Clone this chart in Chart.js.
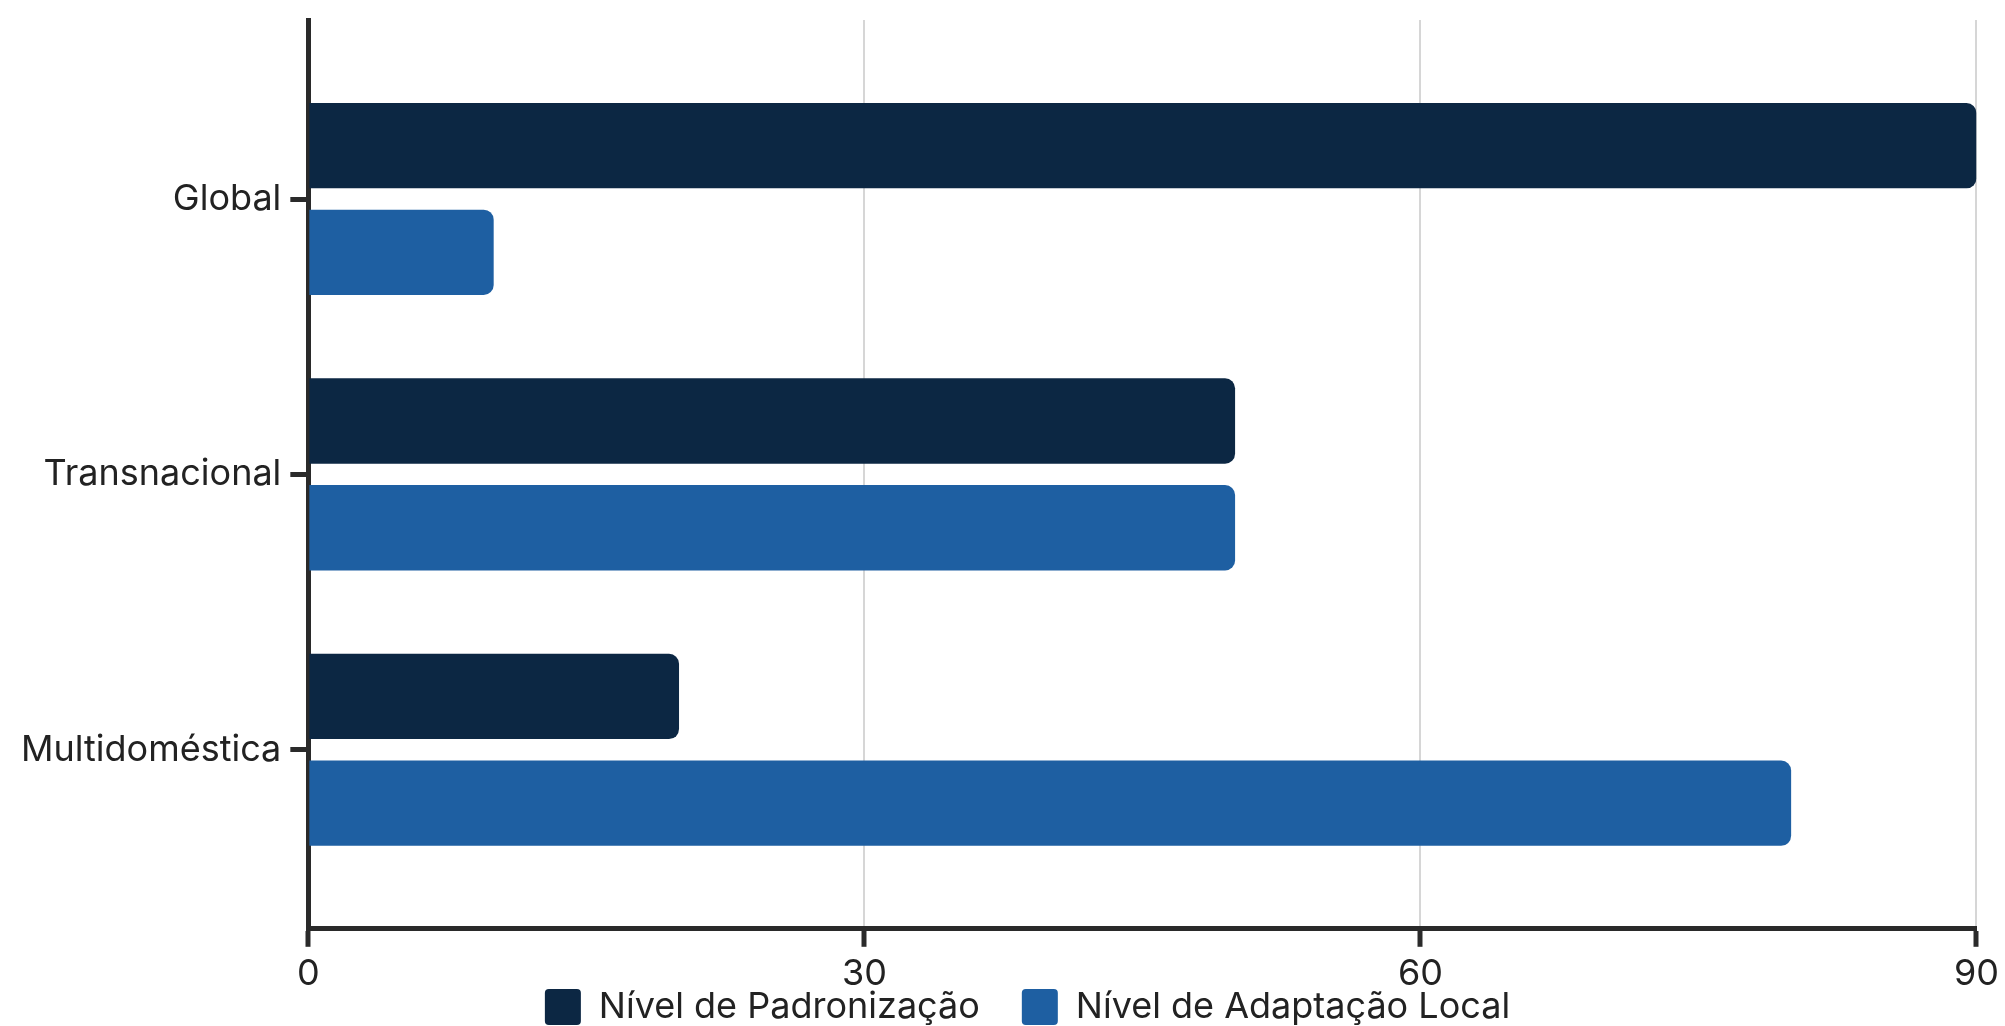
<!DOCTYPE html>
<html>
<head>
<meta charset="utf-8">
<script src="https://cdn.jsdelivr.net/npm/chart.js@4.4.1/dist/chart.umd.min.js"></script>
<style>
  html, body { margin: 0; padding: 0; background: #ffffff; }
  #wrap { width: 2005px; height: 1026px; position: relative; }
</style>
</head>
<body>
<div id="wrap"><canvas id="c"></canvas></div>
<script>
const categories = ['Global', 'Transnacional', 'Multidoméstica'];
const seriesNames = ['Nível de Padronização', 'Nível de Adaptação Local'];
const padronizacao = [90, 50, 20];
const adaptacaoLocal = [10, 50, 80];
const xTicks = [0, 30, 60, 90];

const DARK = '#0c2743';
const BLUE = '#1e5fa2';
const AXIS = '#2a2a2a';
const TEXT = '#222222';
const GRID = '#d6d6d6';

const LEGEND_BOX = 36;
const LEGEND_PAD = 42;
const LEGEND_SPACE = 24;
const LEGEND_LEFT_INSET = 66;

function toPoints(values) {
  return values.map((v, i) => ({ x: v, y: i }));
}

// Legend sits tight under the axis labels while keeping wide spacing between items
const legendPlacement = {
  id: 'legendPlacement',
  afterInit(chart) {
    const lg = chart.legend;
    const baseFit = lg.fit;
    lg.fit = function () { baseFit.call(this); this.height = LEGEND_SPACE; };
  },
  afterLayout(chart) {
    const lg = chart.legend;
    const top = chart.height - LEGEND_BOX - 1 - LEGEND_PAD;
    lg.top = top;
    lg.bottom = chart.height;
    lg.height = lg.bottom - lg.top;
    lg.left = lg.left + LEGEND_LEFT_INSET;
    lg.width = lg.right - lg.left;
  }
};

function draw() {
  Chart.defaults.font.family = 'Inter';
  Chart.defaults.font.size = 36;
  Chart.defaults.color = TEXT;

  new Chart(document.getElementById('c'), {
    type: 'bar',
    plugins: [legendPlacement],
    data: {
      datasets: [
        { label: seriesNames[0], data: toPoints(padronizacao), backgroundColor: DARK,
          borderRadius: 10, borderSkipped: 'start', categoryPercentage: 0.775, barPercentage: 0.8 },
        { label: seriesNames[1], data: toPoints(adaptacaoLocal), backgroundColor: BLUE,
          borderRadius: 10, borderSkipped: 'start', categoryPercentage: 0.775, barPercentage: 0.8 }
      ]
    },
    options: {
      indexAxis: 'y',
      responsive: true,
      maintainAspectRatio: false,
      animation: false,
      layout: { padding: { top: 20, left: 12, right: 28, bottom: 0 } },
      plugins: {
        tooltip: { enabled: false },
        legend: {
          position: 'bottom',
          labels: {
            font: { family: 'Inter', size: 36 },
            color: TEXT,
            boxWidth: LEGEND_BOX,
            boxHeight: LEGEND_BOX,
            useBorderRadius: true,
            borderRadius: 4,
            padding: LEGEND_PAD
          }
        }
      },
      scales: {
        x: {
          type: 'linear',
          min: xTicks[0],
          max: xTicks[xTicks.length - 1],
          afterBuildTicks: s => { s.ticks = xTicks.map(v => ({ value: v })); },
          ticks: { padding: 6, color: TEXT, font: { size: 36 } },
          grid: { color: GRID, lineWidth: 2, tickColor: AXIS, tickWidth: 5, tickLength: 18, drawOnChartArea: true },
          border: { display: true, color: AXIS, width: 5 }
        },
        y: {
          type: 'linear',
          offset: false,
          min: -0.65,
          max: categories.length - 1 + 0.65,
          reverse: true,
          afterBuildTicks: s => { s.ticks = categories.map((c, i) => ({ value: i })); },
          afterFit: s => { s.paddingTop = 0; s.paddingBottom = 0; },
          ticks: { padding: 9, color: TEXT, font: { size: 36 },
                   callback: v => categories[v] },
          grid: { offset: false, drawOnChartArea: false, tickColor: AXIS, tickWidth: 5, tickLength: 18 },
          border: { display: true, color: AXIS, width: 5 }
        }
      }
    }
  });
}

if (document.fonts && document.fonts.load) {
  document.fonts.load('36px Inter').then(draw, draw);
} else {
  draw();
}
</script>
</body>
</html>
